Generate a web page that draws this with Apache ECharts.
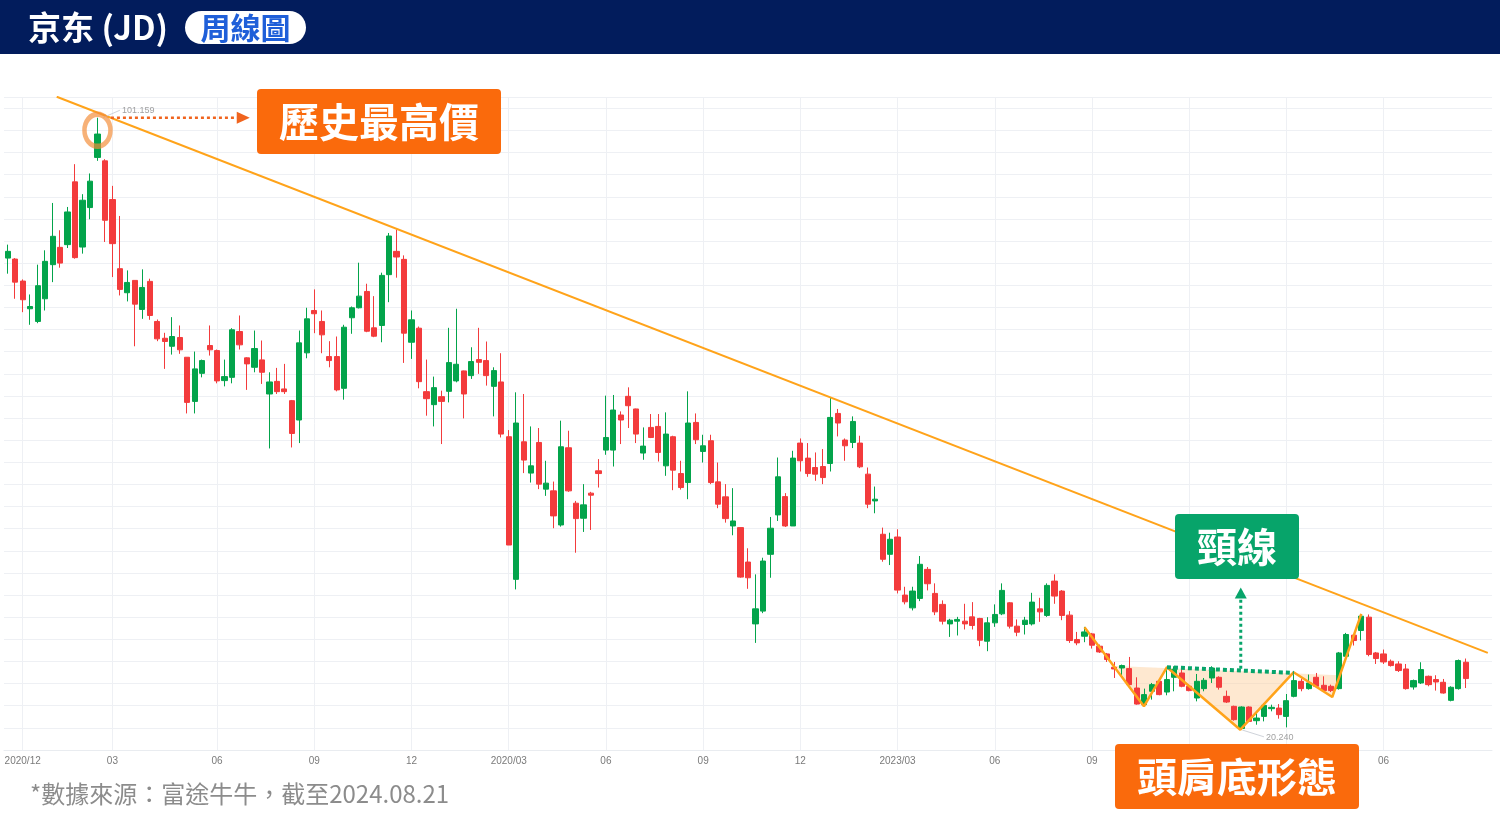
<!DOCTYPE html>
<html><head><meta charset="utf-8">
<script src="https://cdn.jsdelivr.net/npm/echarts@6/dist/echarts.min.js"></script>
<style>html,body{margin:0;padding:0;background:#fff}#c{width:1500px;height:832px}</style>
</head><body><div id="c"></div>
<script>
// ---- data (weekly candles, week of 2020-11-23 .. 2024-08-19) ----
const opens = [82.60,82.47,79.56,75.90,74.22,77.22,81.73,84.02,84.38,92.68,84.06,89.28,95.91,95.46,90.34,81.20,78.02,79.65,75.81,79.52,
74.22,72.00,70.94,72.10,69.49,63.65,67.36,71.04,70.37,66.40,66.83,72.89,69.41,68.16,69.14,64.63,66.30,65.30,63.75,61.19,
70.07,75.67,74.22,69.58,69.58,65.38,74.71,76.03,78.19,73.38,73.69,80.41,83.49,82.43,71.47,73.33,64.94,63.22,64.28,64.98,
66.36,67.68,67.06,69.18,69.05,65.64,66.22,58.98,40.12,58.31,54.17,58.22,52.05,51.82,47.31,57.52,50.19,48.20,51.52,54.47,
57.21,57.21,61.85,64.32,62.65,56.82,60.21,60.34,55.13,58.98,54.11,52.92,60.87,57.03,58.45,53.01,51.03,47.18,46.96,42.41,
34.23,35.92,43.43,48.64,51.06,47.18,58.14,56.15,54.91,55.04,55.44,62.06,58.54,58.22,58.14,54.03,50.49,46.08,43.43,45.72,
38.04,36.35,37.60,41.44,38.26,36.81,34.23,34.59,34.59,35.16,34.95,31.94,34.37,35.56,37.02,33.93,34.15,34.23,36.22,35.35,
39.89,38.57,35.39,32.17,32.60,32.91,31.28,30.26,28.50,28.40,28.32,25.75,23.55,25.32,26.64,25.22,27.17,27.74,25.98,24.43,
25.67,27.08,27.17,24.65,23.33,20.40,23.24,21.43,22.00,23.02,23.10,22.00,24.65,26.64,25.67,27.17,26.11,25.98,25.67,29.95,
32.74,33.36,35.12,30.39,30.26,29.29,28.93,28.27,25.89,26.42,27.30,26.87,26.51,24.12,25.67,29.16];
const closes = [83.49,79.42,77.09,76.20,78.95,82.17,85.48,81.94,88.70,82.66,90.25,92.77,99.00,87.60,84.51,78.46,79.38,76.51,78.72,75.01,
71.92,71.57,72.23,70.47,63.52,67.95,69.05,70.47,66.36,66.93,73.12,71.13,68.61,70.64,67.50,66.22,64.94,64.94,59.41,71.39,
74.57,75.24,72.45,69.05,65.17,73.46,76.03,77.57,72.93,72.27,80.31,85.52,82.74,72.67,74.44,66.26,64.01,65.47,63.65,68.78,
68.56,64.63,68.92,68.82,67.06,67.72,59.33,44.66,60.79,55.89,55.13,52.71,52.84,48.51,57.65,51.82,48.15,49.97,51.25,54.11,
58.88,62.51,61.19,63.08,59.33,57.74,58.88,56.90,59.33,54.56,52.26,60.79,58.58,57.78,52.92,50.06,48.15,47.84,40.42,40.33,
36.22,42.54,46.88,53.68,47.18,56.15,55.80,54.11,54.03,53.58,61.53,60.79,57.78,61.00,55.00,50.06,50.72,42.77,45.42,38.70,
37.15,38.57,42.11,39.54,35.82,34.59,34.72,34.82,34.23,34.02,32.07,34.37,35.48,38.66,33.93,33.13,34.72,37.11,35.82,39.32,
37.91,35.35,32.03,31.72,33.17,31.41,30.52,29.52,28.27,28.72,26.20,23.63,24.88,26.20,24.88,26.87,28.23,25.98,25.41,26.64,
26.77,28.40,25.85,23.90,21.57,23.24,21.34,21.78,23.46,23.20,22.23,24.08,26.73,25.67,26.42,25.98,25.41,25.41,30.39,32.83,
32.03,35.25,30.18,29.65,29.20,28.72,28.06,25.67,26.73,28.19,26.20,26.55,25.09,25.85,29.38,27.00];
const lows = [80.54,77.22,75.45,73.78,73.99,75.67,79.42,81.33,83.93,82.52,83.19,87.73,95.46,84.73,80.09,77.66,76.87,70.94,74.57,74.44,
71.61,67.95,69.84,69.94,62.06,62.06,66.83,69.71,66.04,65.64,66.04,70.51,65.17,67.50,65.96,57.43,64.63,64.63,57.56,58.14,
69.35,72.67,70.02,68.16,64.98,63.88,72.59,75.94,72.80,72.14,71.47,76.77,80.01,68.74,69.27,65.38,61.76,60.34,58.01,63.52,
66.17,61.40,66.62,67.29,65.74,61.67,58.88,44.66,38.79,54.17,52.92,52.05,51.16,46.88,47.09,51.69,43.64,46.39,46.65,52.26,
56.59,55.04,58.01,60.13,58.14,55.93,58.80,55.70,53.81,51.91,51.99,50.72,58.01,55.57,52.71,49.53,47.62,45.95,40.33,38.87,
31.72,35.65,40.33,47.84,47.05,47.18,54.38,53.68,53.15,52.71,54.38,59.02,55.80,57.48,54.83,49.53,48.86,42.45,42.01,38.26,
36.81,36.01,37.24,38.66,35.39,34.15,32.51,32.70,33.49,33.49,31.28,30.62,33.84,35.39,33.62,32.60,32.83,34.02,34.50,35.16,
36.89,34.72,31.72,31.41,31.81,30.97,30.39,29.20,27.08,27.30,26.11,23.55,23.33,24.22,24.79,24.79,25.32,25.85,25.32,23.99,
25.32,26.42,25.54,23.77,21.43,20.24,21.25,20.90,21.34,22.67,21.70,20.55,24.52,25.32,25.54,25.85,25.32,25.22,25.54,29.82,
31.37,32.03,29.95,28.93,28.93,28.59,27.87,25.54,25.54,26.28,25.98,25.41,25.01,23.99,25.54,25.75];
const highs = [84.38,82.60,79.78,77.79,81.73,83.63,89.89,86.28,89.36,95.02,91.05,93.79,101.159,95.68,92.15,88.17,80.97,79.65,81.11,79.87,
74.48,72.72,74.79,73.69,69.49,70.24,69.18,73.69,70.51,69.18,73.33,75.01,69.49,73.02,71.70,67.50,68.08,68.61,63.84,73.02,
76.03,78.46,75.67,71.61,72.23,73.78,76.20,81.99,79.21,77.57,80.67,85.92,86.37,82.96,75.67,73.55,69.18,66.93,65.07,73.38,
75.90,67.72,70.81,73.38,71.57,68.16,70.02,59.86,64.85,64.63,60.34,60.13,55.80,53.05,61.10,59.77,50.49,52.71,51.69,56.02,
64.41,64.50,62.33,65.51,62.69,60.21,61.98,61.98,62.20,59.11,55.80,64.98,62.06,59.24,59.24,55.57,52.71,52.18,46.96,44.23,
40.78,42.98,48.37,56.23,51.52,57.12,58.75,58.14,56.90,57.35,64.10,62.65,58.75,61.67,59.11,54.91,52.39,46.96,46.29,46.74,
39.14,39.14,43.21,41.75,39.59,37.34,34.90,35.16,36.89,37.11,35.03,35.12,36.81,39.59,37.11,34.82,35.16,38.34,37.68,39.59,
40.78,38.70,35.92,33.17,33.84,33.04,31.50,30.39,29.20,28.85,29.86,27.17,25.67,26.42,27.08,28.19,28.63,28.63,26.24,27.61,
27.08,28.63,27.30,25.41,23.42,23.33,23.33,22.44,23.77,23.55,23.63,24.96,27.53,27.00,27.53,27.74,27.30,26.20,30.52,33.04,
32.83,35.48,35.48,30.52,30.84,29.52,29.29,28.93,26.87,29.16,27.40,27.44,26.95,25.98,29.52,29.65];

// x-axis tick labels (index of the week where each label sits)
const tickIndex = [2,14,28,41,54,67,80,93,106,119,132,145,158,171,184];
const tickText  = ['2020/12','03','06','09','12','2020/03','06','09','12','2023/03','06','09','12','2024/03','06'];

// annotation geometry in data space: [week index, price]
const trendPts   = [[6.55,103.94],[197.94,30.39]];
const hsPts      = [[144,33.80],[151.95,23.33],[155.03,28.50],[164.84,20.24],[171.96,27.83],[177.14,24.56],[181.02,35.56]];
const fillPts    = [[148.2,28.65],[151.95,23.33],[155.03,28.50],[164.84,20.24],[171.96,27.83],[177.14,24.56],[178.1,27.44]];
const neckPts    = [[155.03,28.50],[172.0,27.75]];
const neckArrow  = [[164.9,28.3],[164.9,38.3]];
const peakArrow  = [[13.8,101.159],[31.5,101.159]];
const peakMark   = [12, 99.5];
const maxLabel   = {lead:[[12.8,101.2],[15.0,102.15]], pos:[15.2,102.15], text:'101.159'};
const minLabel   = {lead:[[165.1,20.2],[168.0,19.3]], pos:[168.2,19.25], text:'20.240'};

const N_SLOTS = 199;
const dates = [];
const t0 = Date.UTC(2020,10,23);
for (let i = 0; i < N_SLOTS; i++) dates.push(new Date(t0 + i*7*86400000).toISOString().slice(0,10));
const candles = opens.map((o,i)=>[o, closes[i], lows[i], highs[i]]);

const GREEN='#03A44B', RED='#F33B3C', ORANGE='#FA6A0C', LINE_OR='#FFA31A', NECK='#07A46A';
const CJK = '"Noto Sans CJK TC","Noto Sans CJK SC",sans-serif';

function boxText(x, y, text, size, color, weight){
  return {type:'text', x:x, y:y, z:101,
    style:{text:text, fill:color, font:(weight||'bold')+' '+size+'px '+CJK,
      align:'center', verticalAlign:'middle', textAlign:'center', textVerticalAlign:'middle'}};
}

const chart = echarts.init(document.getElementById('c'), null, {renderer:'canvas'});
chart.setOption({
  animation:false,
  backgroundColor:'#ffffff',
  grid:{left:4, right:8, top:97, bottom:82, show:false},
  xAxis:[{
    type:'category', data:dates, boundaryGap:true,
    axisLine:{show:true, lineStyle:{color:'#E9ECF0'}},
    axisTick:{show:false},
    splitLine:{show:false},
    axisLabel:{
      interval:(i)=>tickIndex.includes(i),
      formatter:(v,i)=>{const k=tickIndex.indexOf(i); return k<0?'':tickText[k];},
      color:'#7a7a7a', fontSize:10, margin:6, fontFamily:'Arial, "Liberation Sans", sans-serif'
    }
  },{
    type:'value', min:-0.5, max:N_SLOTS-0.5, show:false
  }],
  yAxis:[{
    type:'value', min:17.556, max:103.9, interval:2.926,
    axisLine:{show:false}, axisTick:{show:false}, axisLabel:{show:false},
    splitLine:{show:true, lineStyle:{color:'#EEF0F4', width:1}}
  }],
  series:[
    { // vertical grid lines at quarter ticks
      type:'line', data:[], z:0, silent:true,
      markLine:{silent:true, z:0, symbol:['none','none'], label:{show:false},
        lineStyle:{color:'#EEF0F4', type:'solid', width:1},
        data: tickIndex.map(i=>({xAxis:dates[i]}))}
    },
    {
      type:'custom', xAxisIndex:1, z:2, silent:true,
      data:[0],
      renderItem:(params, api)=>({
        type:'polygon',
        shape:{points: fillPts.map(p=>api.coord(p))},
        style:{fill:'rgba(253,203,150,0.45)'}
      })
    },
    {
      type:'candlestick', data:candles, z:3, barWidth:'76%',
      itemStyle:{color:GREEN, color0:RED, borderColor:GREEN, borderColor0:RED, borderWidth:1}
    },
    {type:'line', xAxisIndex:1, data:trendPts, symbol:'none', z:4, silent:true,
      lineStyle:{color:LINE_OR, width:2}},
    {type:'line', xAxisIndex:1, data:hsPts, symbol:'none', z:5, silent:true,
      lineStyle:{color:LINE_OR, width:2.5}},
    {type:'line', xAxisIndex:1, data:neckPts, symbol:'none', z:6, silent:true,
      lineStyle:{color:NECK, width:4, type:[4,3]}},
    {type:'line', xAxisIndex:1, z:6, silent:true,
      data:[{value:neckArrow[0], symbol:'none'},{value:neckArrow[1], symbol:'triangle', symbolSize:[12,11]}],
      showAllSymbol:true, itemStyle:{color:NECK},
      lineStyle:{color:NECK, width:3, type:[3,3]}},
    {type:'line', xAxisIndex:1, z:6, silent:true,
      data:[{value:peakArrow[0], symbol:'none'},{value:peakArrow[1], symbol:'triangle', symbolSize:[12,13], symbolRotate:-90}],
      showAllSymbol:true, itemStyle:{color:'#F0641E'},
      lineStyle:{color:'#F0641E', width:2.5, type:[3,3]}},
    {type:'scatter', xAxisIndex:1, z:7, silent:true, data:[peakMark],
      symbol:'circle', symbolSize:[26,32],
      itemStyle:{color:'rgba(0,0,0,0)', borderColor:'rgba(243,140,55,0.85)', borderWidth:5}},
    {type:'line', xAxisIndex:1, data:maxLabel.lead, symbol:'none', z:6, silent:true,
      lineStyle:{color:'#cfd3da', width:1}},
    {type:'line', xAxisIndex:1, data:minLabel.lead, symbol:'none', z:6, silent:true,
      lineStyle:{color:'#cfd3da', width:1}},
    {type:'scatter', xAxisIndex:1, z:8, silent:true, symbolSize:1, itemStyle:{color:'rgba(0,0,0,0)'},
      data:[{value:maxLabel.pos, name:maxLabel.text},{value:minLabel.pos, name:minLabel.text}],
      label:{show:true, position:'right', distance:0, formatter:(p)=>p.name, color:'#8a8a8a', fontSize:9,
        fontFamily:'Arial, "Liberation Sans", sans-serif'}}
  ],
  graphic:[
    {type:'rect', x:0, y:0, shape:{width:1500, height:54}, style:{fill:'#021C5C'}, z:100},
    {type:'text', x:28, y:27, z:101, style:{text:'京东 (JD)', fill:'#ffffff', font:'bold 33px '+CJK,
      verticalAlign:'middle', textVerticalAlign:'middle'}},
    {type:'rect', x:185, y:11, shape:{width:121, height:33, r:16.5}, style:{fill:'#ffffff'}, z:101},
    boxText(245.5, 27.5, '周線圖', 30, '#1F5FD9'),
    {type:'rect', x:257, y:89, shape:{width:244, height:65, r:4}, style:{fill:ORANGE}, z:100},
    boxText(379, 121.5, '歷史最高價', 40, '#ffffff'),
    {type:'rect', x:1175, y:514, shape:{width:124, height:65, r:4}, style:{fill:NECK}, z:100},
    boxText(1237, 546.5, '頸線', 40, '#ffffff'),
    {type:'rect', x:1115, y:744, shape:{width:244, height:65, r:4}, style:{fill:ORANGE}, z:100},
    boxText(1237, 776.5, '頭肩底形態', 40, '#ffffff'),
    {type:'text', x:30, y:794, z:101, style:{text:'*數據來源：富途牛牛，截至2024.08.21', fill:'#8c8c8c', font:'24px '+CJK,
      verticalAlign:'middle', textVerticalAlign:'middle'}}
  ]
});
</script></body></html>
